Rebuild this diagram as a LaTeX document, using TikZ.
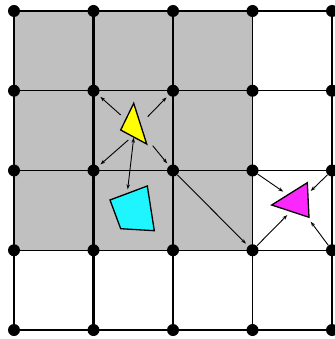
\documentclass[tikz,border=0pt]{standalone}
\usetikzlibrary{arrows.meta}
\definecolor{cellgray}{RGB}{192,192,192}
\definecolor{cyanq}{RGB}{30,245,255}
\definecolor{magt}{RGB}{250,40,250}
\definecolor{yelt}{RGB}{255,255,0}
\tikzset{
  dot/.style={circle,fill=black,inner sep=0pt,minimum size=12pt},
  thinline/.style={line width=1.4pt},
  thickline/.style={line width=2.4pt},
  arr/.style={line width=0.9pt,-{Stealth[length=5pt,width=3.5pt,open]}},
  darr/.style={line width=0.9pt,{Stealth[length=5pt,width=3.5pt,open]}-{Stealth[length=5pt,width=3.5pt,open]}},
  todot/.style={shorten >=3pt},
  shapeline/.style={line width=1.3pt,line join=miter}
}
\begin{document}
\begin{tikzpicture}[x=1pt,y=-1pt]
\useasboundingbox (0,0) rectangle (334,339);
\fill[cellgray] (14,11) rectangle (252.5,250.25);
% grid lines
\foreach \y in {11,90.75,170.5,250.25,330} \draw[thinline] (14,\y) -- (332,\y);
\foreach \x in {14,252.5,332} \draw[thinline] (\x,11) -- (\x,330);
\foreach \x in {93.5,173} \draw[thickline] (\x,11) -- (\x,330);
% dots
\foreach \i/\x in {0/14,1/93.5,2/173,3/252.5,4/332}
  \foreach \j/\y in {0/11,1/90.75,2/170.5,3/250.25,4/330}
    \node[dot] (n\i\j) at (\x,\y) {};
% shapes
\draw[shapeline,fill=yelt] (133.7,103.3) -- (120.7,130) -- (146.7,144) -- cycle;
\draw[shapeline,fill=cyanq] (110,200) -- (147.3,186) -- (154.3,230.7) -- (120.7,228.7) -- cycle;
\draw[shapeline,fill=magt] (271.7,205) -- (307.3,182.7) -- (309,217.3) -- cycle;
% arrow start coordinates
\coordinate (y1) at (120.7,115);
\coordinate (y2) at (147.7,116.7);
\coordinate (y3) at (128.3,140);
\coordinate (y4) at (152.7,145.7);
\coordinate (y5) at (133.7,137.7);
\coordinate (c1) at (127.7,189.3);
\coordinate (m1) at (283.3,191.7);
\coordinate (m2) at (310.7,191);
\coordinate (m3) at (287.3,215);
\coordinate (m4) at (310.7,221.7);
% arrows
\draw[arr,todot] (y1) -- (n11);
\draw[arr,todot] (y2) -- (n21);
\draw[arr,todot] (y3) -- (n12);
\draw[arr,todot] (y4) -- (n22);
\draw[darr] (y5) -- (c1);
\draw[arr,todot] (n22) -- (n33);
\draw[arr] (n32) -- (m1);
\draw[arr] (n42) -- (m2);
\draw[arr] (n33) -- (m3);
\draw[arr] (n43) -- (m4);
\end{tikzpicture}
\end{document}
